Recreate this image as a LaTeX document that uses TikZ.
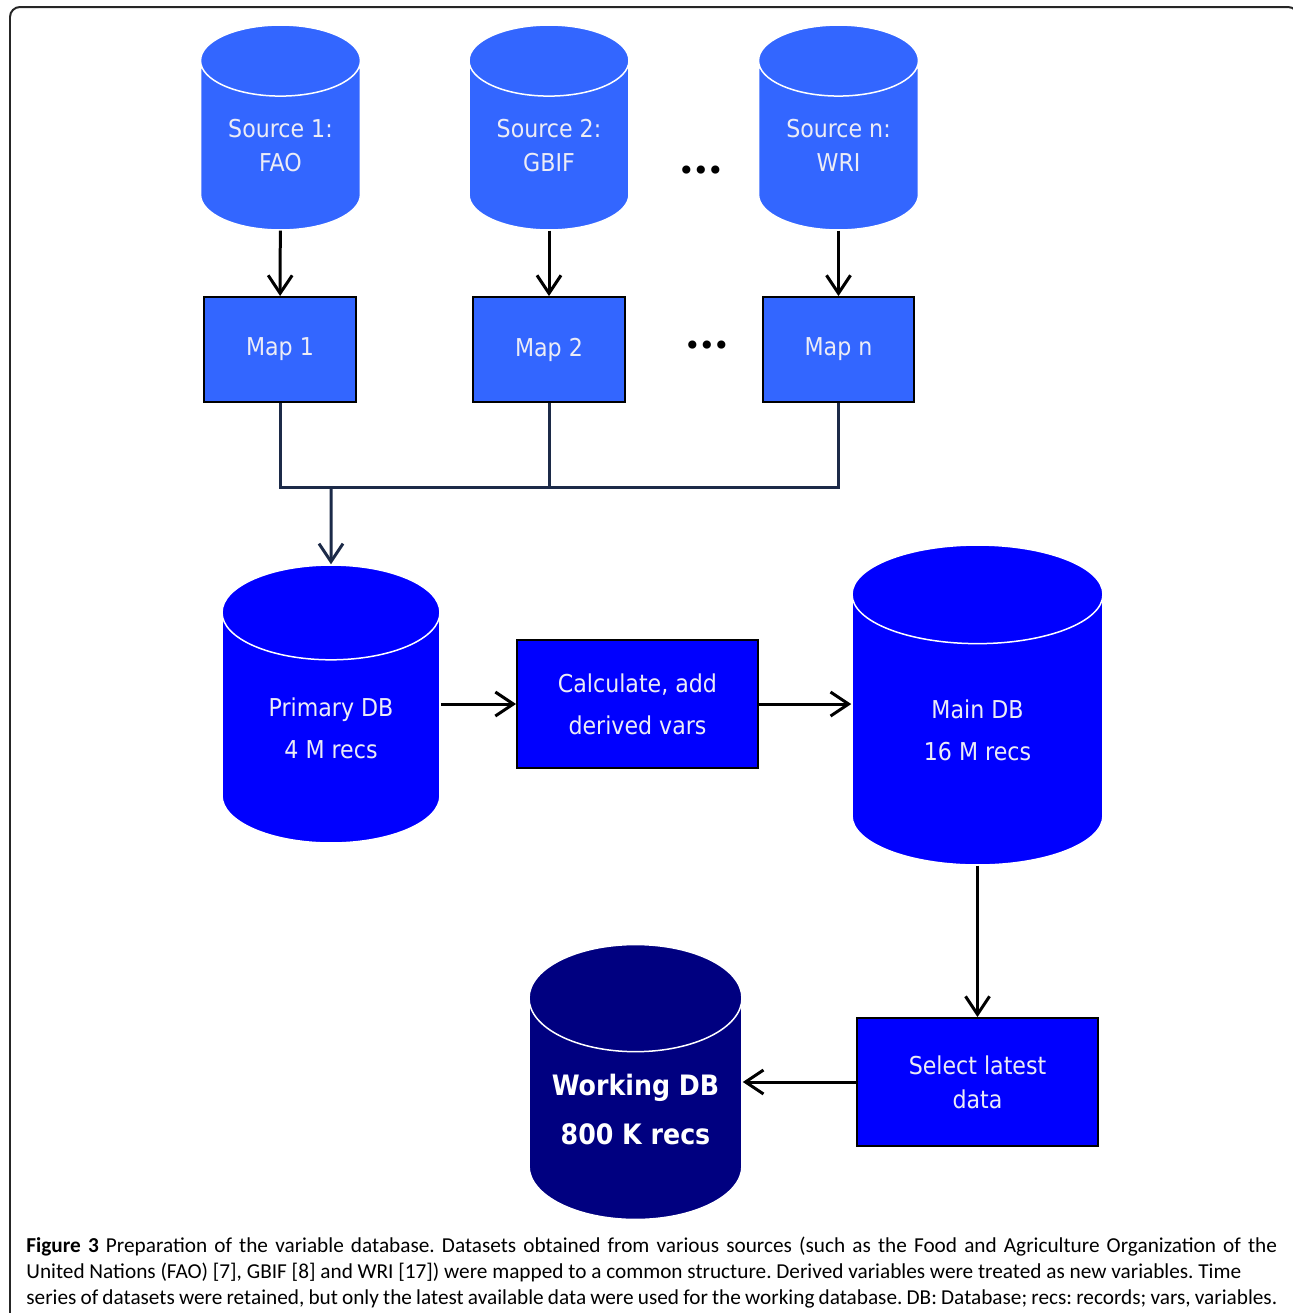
\documentclass[tikz,border=0pt]{standalone}
\usepackage{fontspec}
\setmainfont{Carlito}
\newfontfamily\diagfont{DejaVu Sans Condensed}
\usetikzlibrary{shapes.geometric}
\usetikzlibrary{arrows.meta}
\definecolor{srcblue}{HTML}{3366FF}
\definecolor{dbblue}{HTML}{0000FF}
\definecolor{workblue}{HTML}{000080}
\definecolor{busnavy}{HTML}{1C2A48}
\definecolor{labelwhite}{HTML}{ECECF6}
\frenchspacing
\tikzset{
	db_node/.style = {
		cylinder,
		shape border rotate=90,
		anchor=shape center,
		draw=white,
		line width=0.03cm,
		align=center,
		inner sep=0pt,
		text=labelwhite,
		font=\diagfont\fontsize{14}{24}\selectfont
	},
	db_src/.style = {
		db_node,
		fill=srcblue,
		aspect=0.68,
		minimum width=3.2cm,
		minimum height=4.1cm,
		font=\diagfont\fontsize{14}{19.3}\selectfont
	},
	db_main/.style = {
		db_node,
		fill=dbblue,
		aspect=0.76
	},
	db_work/.style = {
		db_node,
		fill=workblue,
		aspect=0.64,
		text=white,
		font=\diagfont\bfseries\fontsize{16}{27.8}\selectfont
	},
	box_map/.style = {
		rectangle,
		draw=black,
		line width=0.04cm,
		fill=srcblue,
		text=labelwhite,
		minimum width=3.04cm,
		minimum height=2.1cm,
		font=\diagfont\fontsize{14}{19.3}\selectfont
	},
	box_proc/.style = {
		rectangle,
		draw=black,
		line width=0.04cm,
		fill=dbblue,
		text=labelwhite,
		align=center,
		minimum width=4.82cm,
		minimum height=2.56cm
	},
	dots_node/.style = {
		font=\fontspec{DejaVu Sans}\fontsize{16}{16}\selectfont,
		inner sep=0pt
	},
	link/.style = {
		line width=0.06cm,
		-{Straight Barb[length=0.36cm,width=0.48cm]}
	},
	bus_line/.style = {
		line width=0.06cm,
		draw=busnavy
	}
}
\begin{document}
\begin{tikzpicture}[x=0.02cm, y=-0.02cm]
\useasboundingbox (0,0) rectangle (1293,1313);
\draw[line width=0.04cm, draw=black!85, rounded corners=0.2cm] (10,7) rectangle (1298,1340);
\node [db_src] (src1) at (280.5,127.5) {Source 1:\\FAO};
\node [db_src] (src2) at (549,127.5) {Source 2:\\GBIF};
\node [db_src] (srcn) at (838.5,127.5) {Source n:\\WRI};
\node [dots_node] (dots_src) at (701,173) {•\kern-1.2pt•\kern-1.2pt•};
\node [box_map] (map1) at (280,349.5) {Map 1};
\node [box_map] (map2) at (549,349.5) {Map 2};
\node [box_map] (mapn) at (838.5,349.5) {Map n};
\node [dots_node] (dots_map) at (707,348) {•\kern-1.2pt•\kern-1.2pt•};
\coordinate (bus) at (0,487);
\node [db_main, minimum width=4.36cm, minimum height=5.56cm] (primary) at (331,704) {Primary DB\\4 M recs};
\node [box_proc, font=\diagfont\fontsize{14}{24}\selectfont] (calc) at (637.5,704) {Calculate, add\\derived vars};
\node [db_main, aspect=0.92, minimum width=5.02cm, minimum height=6.4cm] (main) at (977.5,705) {Main DB\\16 M recs};
\node [box_proc, font=\diagfont\fontsize{14}{19.3}\selectfont] (select) at (977.5,1082) {Select latest\\data};
\node [db_work, minimum width=4.26cm, minimum height=5.5cm] (work) at (635.5,1082) {Working DB\\800 K recs};
\draw [link] (src1) -- (map1);
\draw [link] (src2) -- (map2);
\draw [link] (srcn) -- (mapn);
\draw [bus_line] (map1) -- (map1 |- bus) -- (mapn |- bus) -- (mapn);
\draw [bus_line] (map2) -- (map2 |- bus);
\draw [link, draw=busnavy] (primary.shape center |- bus) -- (primary);
\draw [link] (primary.east |- calc.west) -- (calc.west);
\draw [link] (calc.east) -- (calc -| main.west);
\draw [link] (main.south) -- (select);
\draw [link] (select.west) -- (select -| work.east);
\node [anchor=north west, inner sep=0pt, align=left, font=\fontsize{12.1}{14.8}\selectfont] (caption) at (26,1237) {%
\makebox[25.02cm][s]{\textbf{Figure 3} Preparation of the variable database. Datasets obtained from various sources (such as the Food and Agriculture Organization of the}\\
United Nations (FAO) [7], GBIF [8] and WRI [17]) were mapped to a common structure. Derived variables were treated as new variables. Time\\
\makebox[25.02cm][s]{series of datasets were retained, but only the latest available data were used for the working database. DB: Database; recs: records; vars, variables.}};
\end{tikzpicture}
\end{document}
